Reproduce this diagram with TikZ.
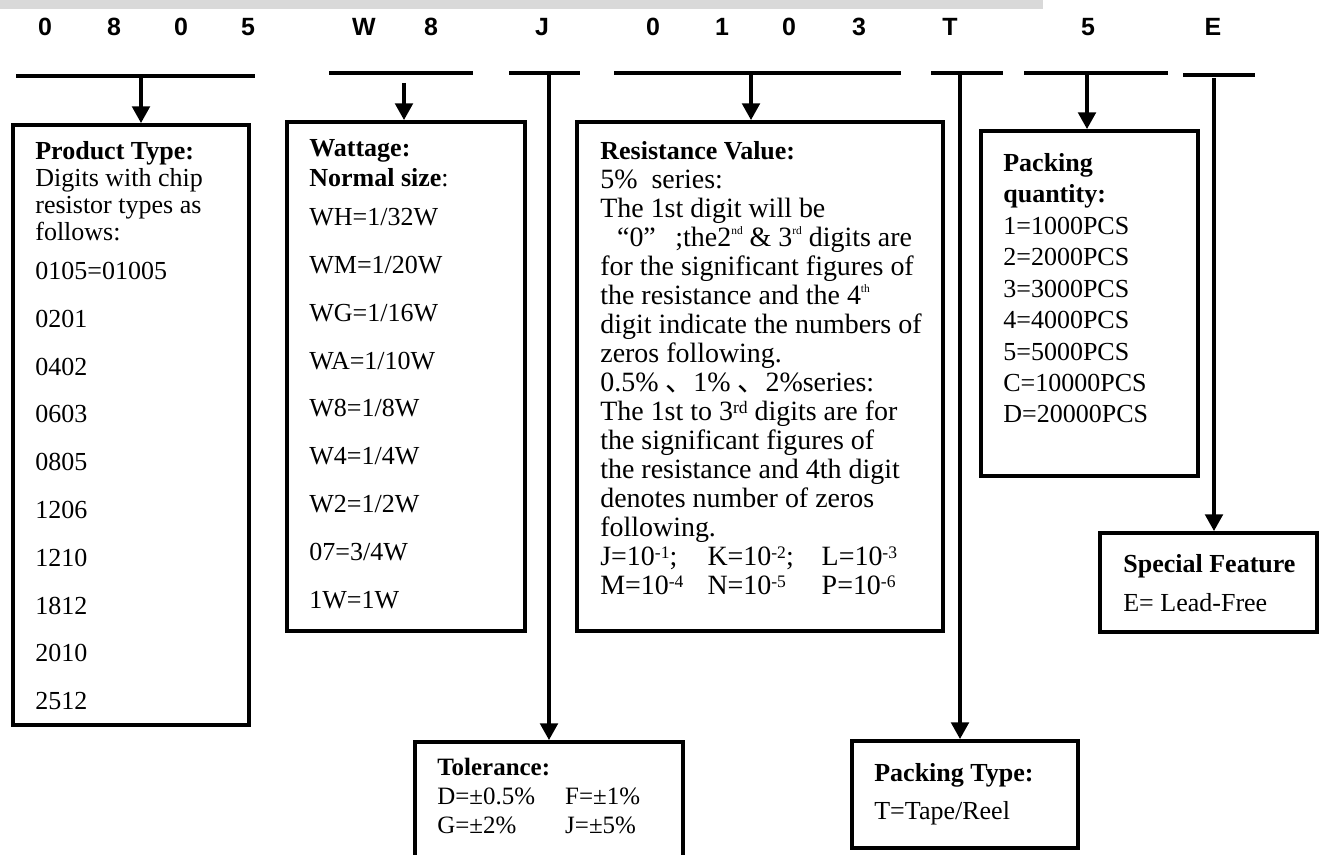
\documentclass[tikz,border=0pt]{standalone}
\usepackage{fontspec}
\setmainfont{Liberation Serif}
\newfontfamily\codefont{Liberation Sans}
\newfontfamily\cjk{Noto Sans CJK SC}
\usetikzlibrary{arrows.meta,fit}

\newcommand{\tinysup}[1]{\raisebox{0.95ex}{\fontsize{6.5pt}{6.5pt}\selectfont #1}}
\newcommand{\powsup}[1]{\raisebox{4pt}{\fontsize{10pt}{10pt}\selectfont #1}}

\begin{document}
\begin{tikzpicture}[x=0.02cm,y=-0.02cm,>={Triangle[length=9.5pt,width=10pt]},
  infobox/.style={draw,line width=2.2pt,inner sep=0pt},
  boxtext/.style={anchor=north west,align=left,inner sep=0pt,
    execute at begin node={\lineskiplimit=-100pt}},
  digit/.style={font=\codefont\bfseries\fontsize{14.2pt}{16pt}\selectfont},
  codebar/.style={line width=2.4pt},
  feed/.style={->,line width=1.9pt}]

  \useasboundingbox (0,0) rectangle (1320,855);
  \fill[black!15] (0,0) rectangle (1043,9);

  % part number and the bars under its fields
  \foreach \px/\ch [count=\i] in {45/0,114/8,181/0,248/5,364/W,431/8,542/J,
      653/0,722/1,789/0,859/3,950/T,1088/5,1213/E}
    \node[digit] (c\i) at (\px,27) {\ch};

  \foreach \xa/\xb/\yb in {16/255/76,329/473/73,509/580/73,614/901/73,
      931/1003/73,1024/1168/73,1183/1255/75}
    \draw[codebar] (\xa,\yb) -- (\xb,\yb);

  % boxes
  \node[infobox,fit={(13,125) (249,725)}] (ptype) {};
  \node[infobox,fit={(287,122) (525,631)}] (watt) {};
  \node[infobox,fit={(577,122) (943,631)}] (resval) {};
  \node[infobox,fit={(981,131) (1198,476)}] (pqty) {};
  \node[infobox,fit={(1100,533) (1317,632)}] (spfeat) {};
  \node[infobox,fit={(852,741) (1078,848)}] (pktype) {};
  \node[infobox,fit={(415,742) (683,900)}] (tol) {};

  \node[boxtext,font=\fontsize{14.8pt}{15.4pt}\selectfont] (ptypetxt) at (35,141)
    {\textbf{Product Type:}\\Digits with chip\\resistor types as\\follows:\\[6.8pt]
     0105=01005\\[11.8pt]0201\\[11.8pt]0402\\[11.8pt]0603\\[11.8pt]0805\\[11.8pt]
     1206\\[11.8pt]1210\\[11.8pt]1812\\[11.8pt]2010\\[11.8pt]2512};

  \node[boxtext,font=\fontsize{14.8pt}{17.07pt}\selectfont] (watttxt) at (309,139)
    {\textbf{Wattage:}\\\textbf{Normal size}:\\[5.1pt]
     WH=1/32W\\[10.2pt]WM=1/20W\\[10.2pt]WG=1/16W\\[10.2pt]WA=1/10W\\[10.2pt]
     W8=1/8W\\[10.2pt]W4=1/4W\\[10.2pt]W2=1/2W\\[10.2pt]07=3/4W\\[10.2pt]1W=1W};

  \node[boxtext,font=\fontsize{15.9pt}{16.5pt}\selectfont] (resvaltxt) at (600,141)
    {{\fontsize{14.8pt}{16.5pt}\selectfont\bfseries Resistance Value:}\\
     5\%\ \ series:\\
     The 1st digit will be\\
     \hspace*{0.6em}“0”\hspace*{0.7em};the2\tinysup{nd} \& 3\tinysup{rd} digits are\\
     for the significant figures of\\
     the resistance and the 4\tinysup{th}\\
     digit indicate the numbers of\\
     zeros following.\\
     0.5\% {\cjk 、}1\% {\cjk 、}2\%series:\\
     The 1st to 3\powsup{rd} digits are for\\
     the significant figures of\\
     the resistance and 4th digit\\
     denotes number of zeros\\
     following.\\
     \makebox[61pt][l]{J=10\powsup{-1};}\makebox[65pt][l]{K=10\powsup{-2};}L=10\powsup{-3}\\
     \makebox[61pt][l]{M=10\powsup{-4}}\makebox[65pt][l]{N=10\powsup{-5}}P=10\powsup{-6}};

  \node[boxtext,font=\fontsize{14.8pt}{17.9pt}\selectfont] (pqtytxt) at (1003,153)
    {\textbf{Packing}\\\textbf{quantity:}\\1=1000PCS\\2=2000PCS\\3=3000PCS\\
     4=4000PCS\\5=5000PCS\\C=10000PCS\\D=20000PCS};

  \node[boxtext,font=\fontsize{14.8pt}{22.2pt}\selectfont] (spfeattxt) at (1123,554)
    {\textbf{Special Feature}\\E= Lead-Free};

  \node[boxtext,font=\fontsize{14.8pt}{21.6pt}\selectfont] (pktypetxt) at (874,763)
    {\textbf{Packing Type:}\\T=Tape/Reel};

  \node[boxtext,font=\fontsize{14.2pt}{16.5pt}\selectfont] (toltxt) at (437,758)
    {\textbf{Tolerance:}\\\makebox[72.8pt][l]{D=±0.5\%}F=±1\%\\
     \makebox[72.8pt][l]{G=±2\%}J=±5\%};

  % arrows from the bars down to the boxes
  \coordinate (a1) at (141,76);
  \coordinate (a2) at (404,83);
  \coordinate (a3) at (549,73);
  \coordinate (a4) at (751,73);
  \coordinate (a5) at (960,73);
  \coordinate (a6) at (1087,73);
  \coordinate (a7) at (1214,78);

  \draw[feed] (a1) -- (a1 |- ptype.north);
  \draw[feed] (a2) -- (a2 |- watt.north);
  \draw[feed] (a3) -- (a3 |- tol.north);
  \draw[feed] (a4) -- (a4 |- resval.north);
  \draw[feed] (a5) -- (a5 |- pktype.north);
  \draw[feed] (a6) -- (a6 |- pqty.north);
  \draw[feed] (a7) -- (a7 |- spfeat.north);
\end{tikzpicture}
\end{document}
